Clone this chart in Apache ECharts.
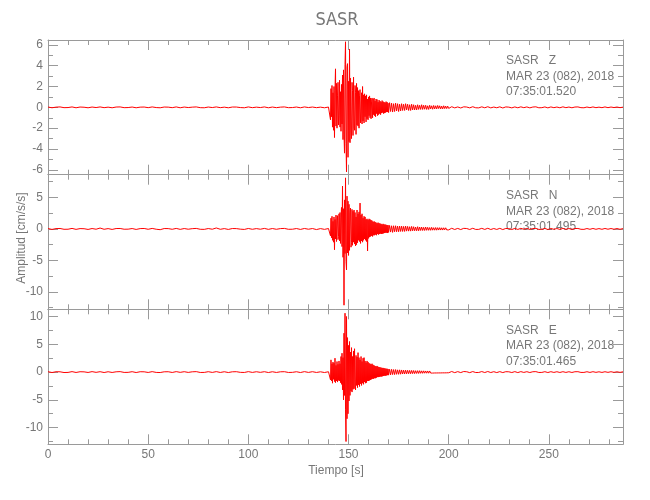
<!DOCTYPE html>
<html><head><meta charset="utf-8">
<script src="https://cdn.jsdelivr.net/npm/echarts@6/dist/echarts.min.js"></script>
<style>html,body{margin:0;padding:0;background:#fff}#c{width:650px;height:500px}</style>
</head><body><div id="c"></div>
<script>
// sampling of the record segments (start time, step in s)
const segStart = [0, 140.25, 170.5, 201.5];
const segStep = [2, 0.25, 0.5, 1.5];

// ---- SASR Z ----
const zPre = [
0.03,-0.04,0.02,0.04,-0.03,-0.02,0.04,-0.04,0.03,0.01,
-0.04,0.03,-0.02,0.04,-0.03,0.02,-0.04,0.03,0.04,-0.03,
-0.02,0.03,-0.04,0.02,0.03,-0.03,0.04,-0.02,-0.04,0.03,
0.02,-0.03,0.04,-0.04,0.03,-0.02,0.02,0.04,-0.03,-0.04,
0.03,-0.02,0.04,-0.03,0.02,-0.04,0.03,0.03,-0.02,-0.04,
0.04,-0.03,0.02,-0.02,0.04,-0.04,0.03,-0.03,0.02,0.04,
-0.03,-0.02,0.03,-0.04,0.04,-0.02,0.03,-0.03,0.02,-0.04,
0.03];
const zEvent = [
0.04,-0.05,0.06,-1.2,1.8,-0.9,2.1,-1.9,1.4,-2.2,
2.0,-2.9,1.6,3.7,-1.8,2.3,-2.0,1.1,2.4,-1.7,
-0.8,2.6,-1.9,1.5,-2.3,2.2,-1.6,3.1,-3.1,3.6,
-2.6,-4.4,4.1,6.3,-3.5,-6.2,3.9,4.2,-4.8,2.5,
-3.3,5.6,-3.4,2.8,-2.1,-3.0,2.4,1.6,-2.7,2.9,
-1.9,-2.2,2.1,1.4,-2.6,2.3,-1.7,1.9,-1.8,1.6,
-2.0,1.1,1.7,-1.5,-1.2,1.4,-1.6,2.0,-1.3,1.2,
-1.5,1.3,-0.9,1.1,-1.4,1.2,-1.1,0.8,-1.2,1.0,
-0.8,1.1,-1.0,0.9,-1.1,0.6,0.9,-1.0,0.8,-0.7,
0.9,-0.8,0.6,-0.9,0.8,-0.6,0.75,-0.8,0.5,-0.7,
0.7,-0.6,0.6,-0.7,0.5,-0.55,0.65,-0.5,0.55,-0.6,
0.5,-0.55,0.45,-0.5,0.55,-0.45,0.5,-0.45,0.4,-0.5];
const zCoda = [
0.45,-0.4,0.4,-0.45,0.35,-0.4,0.4,-0.35,0.35,-0.4,
0.3,-0.35,0.35,-0.3,0.3,-0.3,0.35,-0.25,0.3,-0.3,
0.25,-0.3,0.3,-0.25,0.25,-0.25,0.2,-0.25,0.25,-0.2,
0.2,-0.2,0.25,-0.2,0.2,-0.18,0.2,-0.2,0.15,-0.2,
0.2,-0.15,0.15,-0.18,0.18,-0.15,0.15,-0.15,0.18,-0.12,
0.15,-0.15,0.12,-0.15,0.15,-0.12,0.12,-0.12,0.12,-0.1];
const zPost = [
0.06,-0.05,0.04,-0.06,0.05,0.03,-0.05,0.06,-0.04,-0.05,
0.05,-0.04,0.06,-0.05,0.03,-0.04,0.05,-0.06,0.04,0.02,
-0.05,0.04,-0.04,0.05,-0.03,0.04,-0.05,0.03,0.05,-0.04,
-0.03,0.04,-0.05,0.04,-0.03,0.03,-0.04,0.05,-0.03,0.03,
-0.04,0.03,0.04,-0.03,-0.04,0.03,-0.03,0.04,-0.03,0.02,
-0.03,0.04,-0.03,0.03,-0.02,0.03,-0.03,0.02];

// ---- SASR N ----
const nPre = [
0.06,-0.08,0.05,0.07,-0.06,-0.05,0.08,-0.07,0.05,0.03,
-0.08,0.06,-0.05,0.14,-0.06,0.05,-0.08,0.06,0.07,-0.05,
-0.04,0.06,-0.08,0.05,0.07,-0.06,0.08,-0.05,-0.12,0.06,
0.05,-0.06,0.08,-0.07,0.06,-0.05,0.04,0.08,-0.06,-0.07,
0.06,-0.05,0.15,-0.06,0.05,-0.08,0.06,0.05,-0.04,-0.08,
0.07,-0.06,0.05,-0.05,0.08,-0.07,0.06,-0.06,0.05,0.08,
-0.06,-0.05,0.06,-0.08,0.07,-0.05,0.06,-0.1,0.05,-0.07,
0.06];
const nEvent = [
0.08,-0.1,0.1,-1.1,1.7,-1.4,2.0,-1.8,1.2,-2.1,
1.9,-3.3,1.5,-1.6,2.2,-2.0,1.3,2.1,-1.7,-1.2,
2.4,-1.9,2.6,-2.3,1.8,3.4,-2.8,6.8,-4.5,3.2,
-12.1,4.6,-3.9,8.1,-5.2,-6.5,5.2,-3.8,4.4,-4.2,
3.9,-3.4,2.6,3.3,-2.9,-2.2,3.1,-2.6,2.8,-2.1,
3.0,-2.4,2.6,-2.7,1.9,-2.5,3.0,-2.2,2.4,-1.8,
2.7,-2.0,4.1,-2.3,2.2,-1.9,2.4,-2.1,1.7,-1.8,
2.0,-1.6,1.9,-1.8,1.5,-2.0,1.6,-3.5,1.4,-1.5,
1.6,-1.3,1.5,-1.2,1.4,-1.1,1.3,-1.2,1.1,-1.0,
1.2,-1.0,1.1,-0.9,1.0,-1.0,0.9,-0.8,1.0,-0.9,
0.9,-0.8,0.85,-0.75,0.8,-0.8,0.7,-0.75,0.8,-0.7,
0.7,-0.65,0.7,-0.6,0.65,-0.6,0.6,-0.65,0.6,-0.55];
const nCoda = [
0.55,-0.5,0.5,-0.55,0.5,-0.45,0.5,-0.45,0.45,-0.45,
0.45,-0.4,0.45,-0.4,0.4,-0.4,0.45,-0.35,0.4,-0.35,
0.35,-0.35,0.4,-0.3,0.35,-0.3,0.3,-0.3,0.35,-0.3,
0.3,-0.25,0.3,-0.25,0.25,-0.25,0.3,-0.22,0.25,-0.22,
0.22,-0.22,0.25,-0.2,0.2,-0.2,0.22,-0.2,0.2,-0.18,
0.2,-0.18,0.18,-0.18,0.18,-0.15,0.18,-0.15,0.15,-0.15];
const nPost = [
0.1,-0.09,0.08,-0.1,0.09,0.06,-0.09,0.1,-0.08,-0.07,
0.09,-0.08,0.1,-0.09,0.06,-0.08,0.09,-0.1,0.07,0.05,
-0.09,0.08,-0.08,0.09,-0.06,0.08,-0.09,0.06,0.08,-0.08,
-0.06,0.08,-0.09,0.07,-0.06,0.06,-0.08,0.08,-0.06,0.06,
-0.07,0.06,0.07,-0.06,-0.07,0.06,-0.06,0.07,-0.06,0.05,
-0.06,0.07,-0.05,0.06,-0.05,0.06,-0.06,0.05];

// ---- SASR E ----
const ePre = [
0.07,-0.08,0.06,0.05,-0.08,-0.06,0.08,-0.07,0.06,0.04,
-0.07,0.08,-0.05,0.07,-0.08,0.06,-0.07,0.05,0.08,-0.06,
-0.05,0.07,-0.08,0.06,0.05,-0.07,0.08,-0.06,-0.08,0.05,
0.06,-0.07,0.08,-0.05,0.07,-0.06,0.05,0.08,-0.07,-0.06,
0.07,-0.06,0.08,-0.07,0.06,-0.08,0.05,0.07,-0.05,-0.07,
0.08,-0.06,0.06,-0.05,0.07,-0.08,0.06,-0.07,0.05,0.07,
-0.07,-0.05,0.06,-0.08,0.08,-0.06,0.07,-0.07,0.05,-0.08,
0.06];
const eEvent = [
0.08,-0.1,0.1,-1.4,2.2,-1.6,1.5,-2.0,1.8,-1.3,
1.6,-1.7,2.5,-1.9,1.2,-1.6,1.9,-1.8,1.4,-1.5,
2.0,-1.6,1.5,-1.9,2.8,-2.2,3.4,-3.2,2.6,-5.0,
7.0,-4.2,10.6,-6.8,-12.5,10.0,-8.4,6.2,-7.5,4.8,
-5.2,5.5,-4.2,3.6,-3.4,4.4,-3.6,2.8,-3.1,3.8,
-3.0,4.2,-2.6,-3.2,3.0,-2.4,2.7,-2.8,3.5,-2.3,
2.6,-2.6,2.2,-2.1,2.8,-2.4,1.9,-2.0,2.5,-2.2,
2.6,-1.8,2.0,-2.0,1.7,-1.9,2.0,-1.6,1.8,-1.6,
1.6,-1.5,1.5,-1.4,1.4,-1.3,1.5,-1.2,1.3,-1.2,
1.2,-1.1,1.1,-1.1,1.0,-1.0,1.1,-0.9,0.95,-0.9,
0.9,-0.85,0.85,-0.8,0.8,-0.8,0.75,-0.75,0.75,-0.7,
0.7,-0.65,0.65,-0.65,0.6,-0.6,0.6,-0.55,0.55,-0.55];
const eCoda = [
0.5,-0.5,0.5,-0.45,0.45,-0.45,0.45,-0.4,0.4,-0.4,
0.4,-0.38,0.38,-0.35,0.35,-0.35,0.35,-0.32,0.32,-0.3,
0.3,-0.3,0.3,-0.28,0.28,-0.28,0.25,-0.25,0.25,-0.25,
0.25,-0.22,0.22,-0.22,0.22,-0.2,0.2,-0.2,0.2,-0.2,
0.2,-0.18,0.18,-0.18,0.18,-0.16,0.16,-0.16,0.16,-0.15,
0.15,-0.15,0.15,-0.14,0.14,-0.14,0.13,-0.13,0.13,-0.12];
const ePost = [
0.1,-0.1,0.08,-0.09,0.1,0.06,-0.1,0.09,-0.08,-0.07,
0.09,-0.08,0.1,-0.08,0.07,-0.09,0.08,-0.09,0.07,0.05,
-0.08,0.08,-0.09,0.08,-0.06,0.07,-0.08,0.06,0.08,-0.07,
-0.06,0.07,-0.08,0.07,-0.06,0.06,-0.07,0.07,-0.06,0.06,
-0.07,0.06,0.07,-0.06,-0.06,0.06,-0.06,0.07,-0.05,0.05,
-0.06,0.06,-0.05,0.06,-0.05,0.05,-0.05,0.05];

// axes
const xMax = 287;
const xMajor = [0, 50, 100, 150, 200, 250];
const xMinor = [10,20,30,40,60,70,80,90,110,120,130,140,160,170,180,190,210,220,230,240,260,270,280];
const yMin = [-6.47, -12.75, -13.0];
const yMax = [6.47, 8.6, 11.3];
const yMajor = [[-6,-4,-2,0,2,4,6], [-10,-5,0,5], [-10,-5,0,5,10]];
const yMinor = [[-5,-3,-1,1,3,5], [-12.5,-7.5,-2.5,2.5,7.5], [-12.5,-7.5,-2.5,2.5,7.5]];

const chartTitle = 'SASR';
const xName = 'Tiempo [s]';
const yName = 'Amplitud [cm/s/s]';
const stationText = [
  ['SASR   Z', 'MAR 23 (082), 2018', '07:35:01.520'],
  ['SASR   N', 'MAR 23 (082), 2018', '07:35:01.495'],
  ['SASR   E', 'MAR 23 (082), 2018', '07:35:01.465']
];

const traces = [[zPre, zEvent, zCoda, zPost], [nPre, nEvent, nCoda, nPost], [ePre, eEvent, eCoda, ePost]];

function toPoints(segs) {
  const out = [];
  segs.forEach((vals, s) => {
    vals.forEach((v, i) => out.push([segStart[s] + i * segStep[s], v]));
  });
  return out;
}

const AX = '#9a9a9a';
const TXT = '#777';
const FONT = "'Liberation Sans', Arial, sans-serif";
const NARROW = "'Liberation Sans Narrow', 'DejaVu Sans Condensed', 'Liberation Sans', sans-serif";

const gridTop = [40, 174.7, 309.3];
const gridH = [134.7, 134.6, 135];
const grids = gridTop.map((t, i) => ({ left: 48, right: 27, top: t, height: gridH[i] }));

const xAxes = [], yAxes = [];
for (let p = 0; p < 3; p++) {
  ['bottom', 'top'].forEach(pos => {
    [[xMajor, 10, true], [xMinor, 5, false]].forEach(([vals, len, major]) => {
      xAxes.push({
        type: 'value', gridIndex: p, position: pos, min: 0, max: xMax,
        axisLine: { show: major, onZero: false, lineStyle: { color: AX, width: 1 } },
        axisTick: { show: true, inside: true, length: len, customValues: vals, lineStyle: { color: AX } },
        axisLabel: { show: major && pos === 'bottom' && p === 2, customValues: xMajor, color: TXT,
                     fontFamily: FONT, fontSize: 12, margin: 4 },
        splitLine: { show: false }
      });
    });
  });
  ['left', 'right'].forEach(pos => {
    [[yMajor[p], 10, true], [yMinor[p], 5, false]].forEach(([vals, len, major]) => {
      yAxes.push({
        type: 'value', gridIndex: p, position: pos, min: yMin[p], max: yMax[p],
        axisLine: { show: major, onZero: false, lineStyle: { color: AX, width: 1 } },
        axisTick: { show: true, inside: true, length: len, customValues: vals, lineStyle: { color: AX } },
        axisLabel: { show: major && pos === 'left', customValues: yMajor[p], color: TXT,
                     fontFamily: FONT, fontSize: 12, margin: 5 },
        splitLine: { show: false }
      });
    });
  });
}

const series = traces.map((segs, p) => ({
  type: 'line', xAxisIndex: p * 4, yAxisIndex: p * 4,
  data: toPoints(segs), symbol: 'none', showSymbol: false, silent: true,
  animation: false, color: '#ff0000',
  itemStyle: { color: '#ff0000' },
  lineStyle: { color: '#ff0000', width: 1, opacity: 1 },
  emphasis: { disabled: true }
}));

const graphics = [
  { type: 'text', x: 337, y: 20, style: { text: chartTitle, fill: TXT, font: '18px ' + NARROW, textAlign: 'center', textVerticalAlign: 'middle' } },
  { type: 'text', x: 336, y: 471, style: { text: xName, fill: TXT, font: '12px ' + FONT, textAlign: 'center', textVerticalAlign: 'middle' } },
  { type: 'text', x: 22, y: 238, rotation: Math.PI / 2, style: { text: yName, fill: TXT, font: '12px ' + FONT, textAlign: 'center', textVerticalAlign: 'middle' } }
];
stationText.forEach((lines, p) => {
  lines.forEach((s, k) => {
    graphics.push({ type: 'text', x: 506, y: gridTop[p] + 21 + k * 15.5,
      style: { text: s, fill: TXT, font: '12px ' + FONT, textAlign: 'left', textVerticalAlign: 'middle' } });
  });
});

const chart = echarts.init(document.getElementById('c'), null, { renderer: 'canvas' });
chart.setOption({
  animation: false,
  backgroundColor: '#fff',
  color: ['#ff0000'],
  grid: grids,
  xAxis: xAxes,
  yAxis: yAxes,
  series: series,
  graphic: graphics
});
</script>
</body></html>
